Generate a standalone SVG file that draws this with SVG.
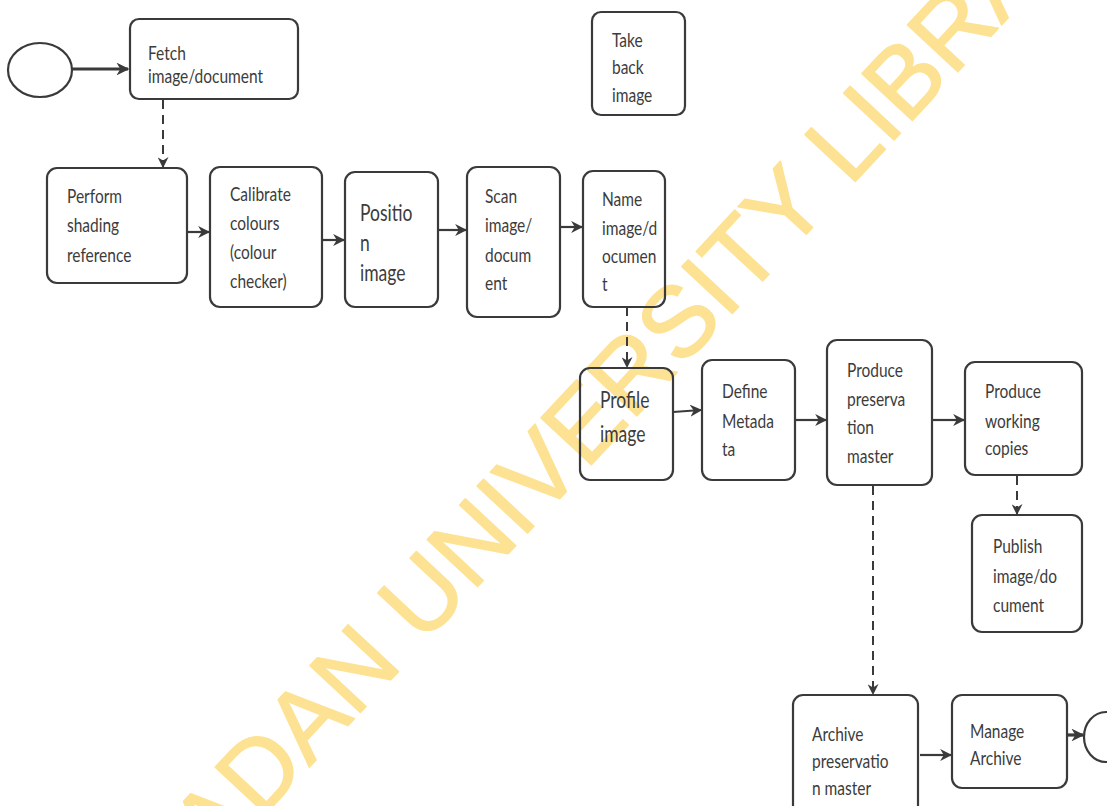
<svg xmlns="http://www.w3.org/2000/svg" width="1107" height="806" viewBox="0 0 1107 806">
<style>
.box{fill:none;stroke:#3a3a3a;stroke-width:2.2}
.term{fill:none;stroke:#3a3a3a;stroke-width:2.2}
.t,.tb{font-family:Lato,"Open Sans",sans-serif;fill:#3c3c3c;transform-box:fill-box;transform-origin:center;transform:scaleY(1.28)}
.t{font-size:15.5px}
.tb{font-size:17.5px}
.c{fill:none;stroke:#3a3a3a;stroke-width:2.2}
.ck{fill:none;stroke:#3a3a3a;stroke-width:3.2}
.d{fill:none;stroke:#3a3a3a;stroke-width:2;stroke-dasharray:9 6}
.wm{font-family:"Liberation Sans",Arial,sans-serif;font-size:100px;fill:#fde293;stroke:#fde293;stroke-width:1.5;stroke-linejoin:round}
</style>
<defs>
<marker id="ah" viewBox="0 0 10 10" refX="9" refY="5" markerWidth="5.5" markerHeight="5.5" orient="auto" markerUnits="strokeWidth">
<path d="M0,0 L10,5 L0,10 L3,5 z" fill="#3a3a3a"/>
</marker>
<marker id="ahs" viewBox="0 0 10 10" refX="9" refY="5" markerWidth="4" markerHeight="4" orient="auto" markerUnits="strokeWidth">
<path d="M0,0 L10,5 L0,10 L3,5 z" fill="#3a3a3a"/>
</marker>
</defs>
<rect width="1107" height="806" fill="#fff"/>
<g id="watermark"><text class="wm" x="150" y="938" transform="rotate(-47 150 938)">IBADAN UNIVERSITY LIBRARY</text></g>
<g id="connectors">
<line class="ck" x1="72" y1="69" x2="128" y2="69" marker-end="url(#ahs)"/>
<line class="d" x1="163" y1="100" x2="163" y2="167" marker-end="url(#ah)"/>
<line class="c" x1="187" y1="232" x2="209" y2="232" marker-end="url(#ah)"/>
<line class="c" x1="322" y1="240" x2="344" y2="240" marker-end="url(#ah)"/>
<line class="c" x1="438" y1="230" x2="466" y2="230" marker-end="url(#ah)"/>
<line class="c" x1="560" y1="227" x2="582" y2="227" marker-end="url(#ah)"/>
<line class="d" x1="627" y1="307" x2="627" y2="367" marker-end="url(#ah)"/>
<line class="c" x1="673" y1="412" x2="701" y2="410" marker-end="url(#ah)"/>
<line class="c" x1="795" y1="420" x2="826" y2="420" marker-end="url(#ah)"/>
<line class="c" x1="932" y1="420" x2="964" y2="420" marker-end="url(#ah)"/>
<line class="d" x1="1017" y1="476" x2="1017" y2="514" marker-end="url(#ah)"/>
<line class="d" x1="873" y1="486" x2="873" y2="694" marker-end="url(#ah)"/>
<line class="c" x1="920" y1="755" x2="951" y2="755" marker-end="url(#ah)"/>
<line class="ck" x1="1067" y1="735" x2="1083" y2="735" marker-end="url(#ahs)"/>
</g>
<g id="start"><ellipse class="term" cx="40" cy="70" rx="32" ry="27"/></g>
<g id="fetch"><rect class="box" x="130" y="19" width="168" height="80" rx="9"/>
<text class="t" x="148" y="58">Fetch</text><text class="t" x="148" y="81">image/document</text></g>
<g id="takeback"><rect class="box" x="592" y="12" width="93" height="103" rx="9"/>
<text class="t" x="612" y="45">Take</text><text class="t" x="612" y="72">back</text><text class="t" x="612" y="100">image</text></g>
<g id="perform"><rect class="box" x="47" y="168" width="140" height="115" rx="10"/>
<text class="t" x="67" y="201">Perform</text><text class="t" x="67" y="230">shading</text><text class="t" x="67" y="260">reference</text></g>
<g id="calibrate"><rect class="box" x="210" y="167" width="112" height="140" rx="10"/>
<text class="t" x="230" y="199">Calibrate</text><text class="t" x="230" y="228">colours</text><text class="t" x="230" y="257">(colour</text><text class="t" x="230" y="286">checker)</text></g>
<g id="position"><rect class="box" x="345" y="172" width="93" height="135" rx="10"/>
<text class="tb" x="360" y="219">Positio</text><text class="tb" x="360" y="249">n</text><text class="tb" x="360" y="279">image</text></g>
<g id="scan"><rect class="box" x="467" y="167" width="93" height="150" rx="10"/>
<text class="t" x="485" y="201">Scan</text><text class="t" x="485" y="230">image/</text><text class="t" x="485" y="260">docum</text><text class="t" x="485" y="288">ent</text></g>
<g id="name"><rect class="box" x="583" y="171" width="82" height="136" rx="10"/>
<text class="t" x="602" y="204">Name</text><text class="t" x="602" y="233">image/d</text><text class="t" x="602" y="261">ocumen</text><text class="t" x="602" y="289">t</text></g>
<g id="profile"><rect class="box" x="580" y="368" width="93" height="112" rx="10"/>
<text class="tb" x="600" y="406">Profile</text><text class="tb" x="600" y="440">image</text></g>
<g id="define"><rect class="box" x="702" y="360" width="93" height="120" rx="10"/>
<text class="t" x="722" y="396">Define</text><text class="t" x="722" y="426">Metada</text><text class="t" x="722" y="454">ta</text></g>
<g id="preservation"><rect class="box" x="827" y="340" width="105" height="145" rx="10"/>
<text class="t" x="847" y="375">Produce</text><text class="t" x="847" y="404">preserva</text><text class="t" x="847" y="432">tion</text><text class="t" x="847" y="461">master</text></g>
<g id="working"><rect class="box" x="965" y="362" width="117" height="113" rx="10"/>
<text class="t" x="985" y="396">Produce</text><text class="t" x="985" y="426">working</text><text class="t" x="985" y="453">copies</text></g>
<g id="publish"><rect class="box" x="972" y="515" width="110" height="117" rx="10"/>
<text class="t" x="993" y="551">Publish</text><text class="t" x="993" y="581">image/do</text><text class="t" x="993" y="610">cument</text></g>
<g id="archive"><rect class="box" x="793" y="695" width="125" height="120" rx="10"/>
<text class="t" x="812" y="739">Archive</text><text class="t" x="812" y="766">preservatio</text><text class="t" x="812" y="793">n master</text></g>
<g id="manage"><rect class="box" x="952" y="695" width="115" height="93" rx="10"/>
<text class="t" x="970" y="736">Manage</text><text class="t" x="970" y="763">Archive</text></g>
<g id="end"><ellipse class="term" cx="1106" cy="737" rx="22" ry="25"/></g>
</svg>
